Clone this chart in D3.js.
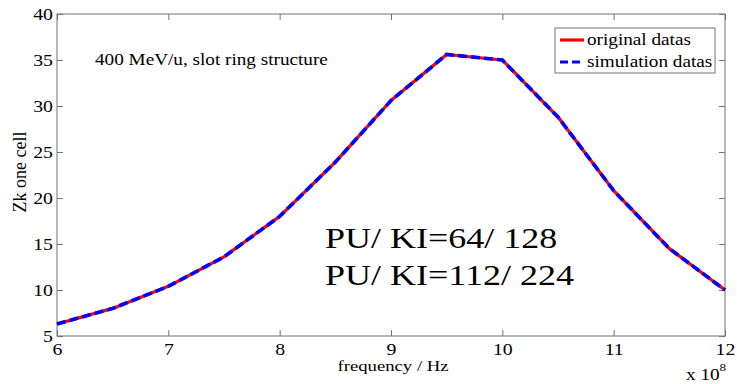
<!DOCTYPE html>
<html>
<head>
<meta charset="utf-8">
<script src="https://cdn.jsdelivr.net/npm/d3@7"></script>
<style>
  html, body { margin: 0; padding: 0; background: #fff; }
  svg { display: block; }
</style>
</head>
<body>
<svg id="chart" width="737" height="384"></svg>
<script>
// Frequency samples (units of 1e8 Hz) and impedance per cell
const frequency = [6, 6.5, 7, 7.5, 8, 8.5, 9, 9.5, 10, 10.5, 11, 11.5, 12];
const originalDatas = [6.3, 8.0, 10.4, 13.6, 18.0, 23.9, 30.6, 35.6, 35.0, 28.8, 20.8, 14.5, 10.0];
const simulationDatas = [6.3, 8.0, 10.4, 13.6, 18.0, 23.9, 30.6, 35.6, 35.0, 28.8, 20.8, 14.5, 10.0];
const xTicks = [6, 7, 8, 9, 10, 11, 12];
const yTicks = [5, 10, 15, 20, 25, 30, 35, 40];
const legendLabels = ["original datas", "simulation datas"];
const noteLines = ["PU/ KI=64/ 128", "PU/ KI=112/ 224"];

const SERIF = "'Liberation Serif', 'Times New Roman', Times, serif";
const STRETCH = 1.2;   // the figure's type is set wide

const svg = d3.select("#chart");
const W = 737, H = 384;
const margin = { left: 57, right: 12, top: 14, bottom: 48 };
const x = d3.scaleLinear().domain([6, 12]).range([margin.left, W - margin.right]);
const y = d3.scaleLinear().domain([5, 40]).range([H - margin.bottom, margin.top]);

const axisColor = "#737373";
const tickLen = 6;

// Wide serif text anchored at (tx, ty)
function wideText(parent, tx, ty, size, str, anchor) {
  const g = parent.append("g").attr("transform", `translate(${tx},${ty}) scale(${STRETCH},1)`);
  return g.append("text")
    .attr("font-family", SERIF).attr("font-size", size)
    .attr("text-anchor", anchor || "start").attr("fill", "#000")
    .text(str);
}

// Frame
svg.append("rect")
  .attr("x", x(6)).attr("y", y(40))
  .attr("width", x(12) - x(6)).attr("height", y(5) - y(40))
  .attr("fill", "none").attr("stroke", axisColor).attr("stroke-width", 1);

function styleAxis(g) {
  g.attr("font-family", SERIF);
  g.select(".domain").remove();
  g.selectAll(".tick line").attr("stroke", axisColor);
  g.selectAll(".tick text").attr("fill", "#000").attr("font-size", 16.5);
}

// Inward ticks on all four sides
svg.append("g").attr("transform", `translate(0,${y(5)})`)
  .call(d3.axisBottom(x).tickValues(xTicks).tickSize(-tickLen).tickFormat(d3.format("d")))
  .call(styleAxis)
  .call(g => g.selectAll(".tick text")
    .attr("y", 19).attr("dy", 0)
    .attr("transform", `scale(${STRETCH},1)`));

svg.append("g").attr("transform", `translate(0,${y(40)})`)
  .call(d3.axisTop(x).tickValues(xTicks).tickSize(-tickLen).tickFormat(""))
  .call(styleAxis);

svg.append("g").attr("transform", `translate(${x(6)},0)`)
  .call(d3.axisLeft(y).tickValues(yTicks).tickSize(-tickLen).tickFormat(d3.format("d")))
  .call(styleAxis)
  .call(g => g.selectAll(".tick text")
    .attr("x", -4 / STRETCH).attr("dy", "0.36em")
    .attr("transform", `scale(${STRETCH},1)`));

svg.append("g").attr("transform", `translate(${x(12)},0)`)
  .call(d3.axisRight(y).tickValues(yTicks).tickSize(-tickLen).tickFormat(""))
  .call(styleAxis);

// Axis titles
wideText(svg, (x(6) + x(12)) / 2 + 2, 371, 15.6, "frequency / Hz", "middle");

svg.append("text")
  .attr("transform", `translate(26,172) rotate(-90)`)
  .attr("font-family", SERIF).attr("font-size", 18)
  .attr("text-anchor", "middle")
  .text("Zk one cell");

const expo = wideText(svg, 686, 380, 16, "x 10");
expo.append("tspan").attr("font-size", 11).attr("dy", -9).text("8");

// Curves
const line = d3.line().x((d, i) => x(frequency[i])).y(d => y(d));

svg.append("path").datum(originalDatas)
  .attr("d", line).attr("fill", "none")
  .attr("stroke", "#ff0000").attr("stroke-width", 3.2)
  .attr("stroke-linejoin", "round");

svg.append("path").datum(simulationDatas)
  .attr("d", line).attr("fill", "none")
  .attr("stroke", "#0000ff").attr("stroke-width", 3.6)
  .attr("stroke-dasharray", "9,4");

// Annotations
wideText(svg, 95, 65, 16, "400 MeV/u, slot ring structure");

noteLines.forEach((t, i) => wideText(svg, 325, 248 + i * 37, 30, t));

// Legend
const lg = svg.append("g");
lg.append("rect")
  .attr("x", 555).attr("y", 28).attr("width", 160).attr("height", 45)
  .attr("fill", "#fff").attr("stroke", axisColor).attr("stroke-width", 1);
const legendColors = ["#ff0000", "#0000ff"];
const legendDash = [null, "8,4"];
legendLabels.forEach((lab, i) => {
  const ly = 40 + i * 22;
  lg.append("line")
    .attr("x1", 560).attr("x2", 584).attr("y1", ly).attr("y2", ly)
    .attr("stroke", legendColors[i]).attr("stroke-width", 3.2)
    .attr("stroke-dasharray", legendDash[i]);
  wideText(lg, 587, ly + 5, 16, lab);
});
</script>
</body>
</html>
